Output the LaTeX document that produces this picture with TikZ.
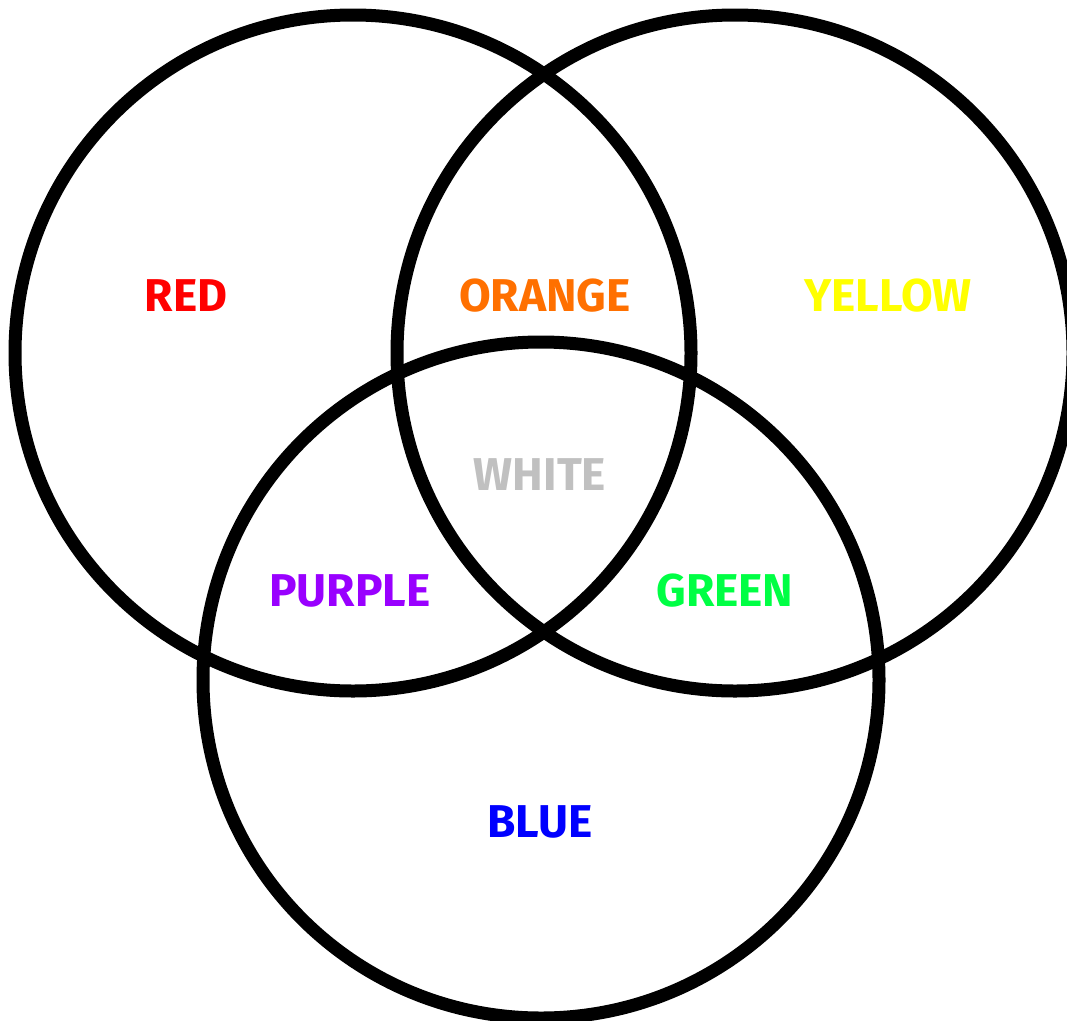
\documentclass[tikz,border=0pt]{standalone}
\usepackage{fontspec}
\setmainfont{Fira Sans}
\definecolor{cRed}{HTML}{FF0000}
\definecolor{cOrange}{HTML}{FF7000}
\definecolor{cYellow}{HTML}{FFFF00}
\definecolor{cWhite}{HTML}{C0C0C0}
\definecolor{cPurple}{HTML}{9900FF}
\definecolor{cGreen}{HTML}{00FF44}
\definecolor{cBlue}{HTML}{0000FF}
\begin{document}
\begin{tikzpicture}[x=1pt,y=-1pt,
  venn/.style={circle,draw=black,line width=13pt,minimum size=676pt,inner sep=0pt,outer sep=0pt},
  lbl/.style={font=\fontsize{46}{46}\selectfont\bfseries,inner sep=0pt,anchor=center}]
\useasboundingbox[fill=white] (0,0) rectangle (1067,1020);
\node[venn] (red) at (353,353) {};
\node[venn] (yellow) at (735,353) {};
\node[venn] (blue) at (541,680) {};
\node[lbl,text=cRed] (tred) at (186,296) {RED};
\node[lbl,text=cOrange] (torange) at (545,296) {ORANGE};
\node[lbl,text=cYellow] (tyellow) at (888,296) {YELLOW};
\node[lbl,text=cWhite] (twhite) at (540,475) {WHITE};
\node[lbl,text=cPurple] (tpurple) at (350,591) {PURPLE};
\node[lbl,text=cGreen] (tgreen) at (725,591) {GREEN};
\node[lbl,text=cBlue] (tblue) at (540,822) {BLUE};
\end{tikzpicture}
\end{document}
